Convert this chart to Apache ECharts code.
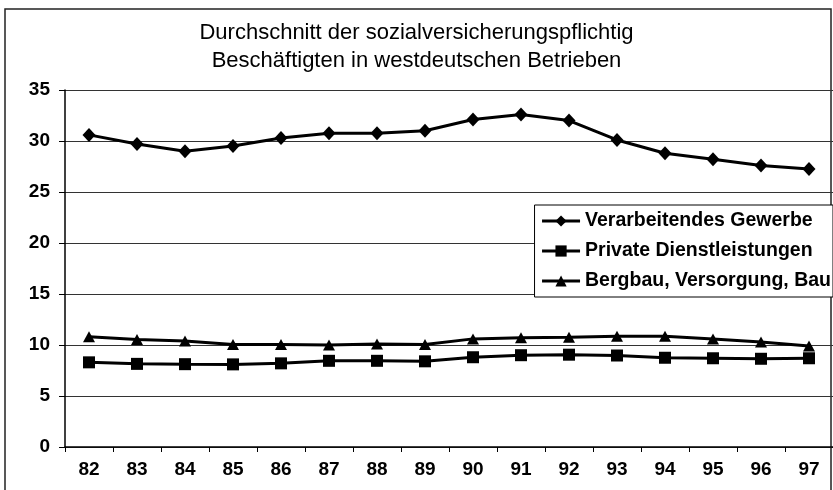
<!DOCTYPE html>
<html>
<head>
<meta charset="utf-8">
<script src="https://cdn.jsdelivr.net/npm/echarts@6/dist/echarts.min.js"></script>
<style>
  html, body { margin: 0; padding: 0; background: #fff; }
  #chart { width: 833px; height: 490px; }
</style>
</head>
<body>
<div id="chart"></div>
<script>
  // Jahre (Kategorien)
  var years = ["82", "83", "84", "85", "86", "87", "88", "89", "90", "91", "92", "93", "94", "95", "96", "97"];
  // Durchschnittliche Beschäftigte je Betrieb
  var verarbeitend = [30.6, 29.7, 29.0, 29.5, 30.3, 30.75, 30.75, 31.0, 32.1, 32.6, 32.0, 30.1, 28.8, 28.2, 27.6, 27.25];
  var privat = [8.3, 8.15, 8.12, 8.1, 8.2, 8.45, 8.45, 8.4, 8.8, 9.0, 9.05, 8.97, 8.75, 8.7, 8.65, 8.7];
  var bergbau = [10.8, 10.55, 10.4, 10.05, 10.05, 10.0, 10.1, 10.05, 10.6, 10.7, 10.75, 10.85, 10.85, 10.6, 10.3, 9.9];
  var yTicks = [0, 5, 10, 15, 20, 25, 30, 35];

  var font = "Liberation Sans, Arial, sans-serif";
  var chart = echarts.init(document.getElementById("chart"));

  function lineSeries(name, data, symbol, size) {
    return {
      name: name,
      type: "line",
      data: data,
      symbol: symbol,
      symbolSize: size,
      lineStyle: { color: "#000", width: 3 },
      itemStyle: { color: "#000" },
      animation: false
    };
  }

  chart.setOption({
    backgroundColor: "#fff",
    animation: false,
    title: {
      text: "Durchschnitt der sozialversicherungspflichtig\nBeschäftigten in westdeutschen Betrieben",
      left: "center",
      top: 14,
      textStyle: { fontFamily: font, fontSize: 22, fontWeight: "normal", color: "#000", lineHeight: 28 }
    },
    graphic: [{
      type: "rect",
      shape: { x: 5, y: 9, width: 826, height: 500 },
      style: { fill: null, stroke: "#222", lineWidth: 1.5 },
      silent: true,
      z: 0
    }],
    legend: {
      orient: "vertical",
      right: 0,
      top: 205,
      padding: [5, 2, 5, 6],
      itemGap: 8,
      itemWidth: 38,
      itemHeight: 14,
      borderColor: "#000",
      borderWidth: 1,
      backgroundColor: "#fff",
      lineStyle: { width: 3, color: "#000" },
      textStyle: { fontFamily: font, fontSize: 19.5, fontWeight: "bold", color: "#000", lineHeight: 22 },
      data: ["Verarbeitendes Gewerbe", "Private Dienstleistungen", "Bergbau, Versorgung, Bau"]
    },
    grid: { left: 65, right: 0, top: 90, bottom: 43, containLabel: false },
    xAxis: {
      type: "category",
      data: years,
      boundaryGap: true,
      axisLine: { lineStyle: { color: "#000", width: 1.5 } },
      axisTick: { show: true, length: 5, lineStyle: { color: "#000" } },
      axisLabel: { fontFamily: font, fontSize: 19, fontWeight: "bold", color: "#000", margin: 13 }
    },
    yAxis: {
      type: "value",
      min: yTicks[0],
      max: yTicks[yTicks.length - 1],
      interval: 5,
      axisLine: { show: true, lineStyle: { color: "#000", width: 1.5 } },
      axisTick: { show: true, length: 6, lineStyle: { color: "#000" } },
      axisLabel: { fontFamily: font, fontSize: 19, fontWeight: "bold", color: "#000", margin: 15 },
      splitLine: { show: true, lineStyle: { color: "#333", width: 1 } }
    },
    series: [
      lineSeries("Verarbeitendes Gewerbe", verarbeitend, "diamond", [13, 14]),
      lineSeries("Private Dienstleistungen", privat, "rect", 12),
      lineSeries("Bergbau, Versorgung, Bau", bergbau, "triangle", [12, 11])
    ]
  });
</script>
</body>
</html>
